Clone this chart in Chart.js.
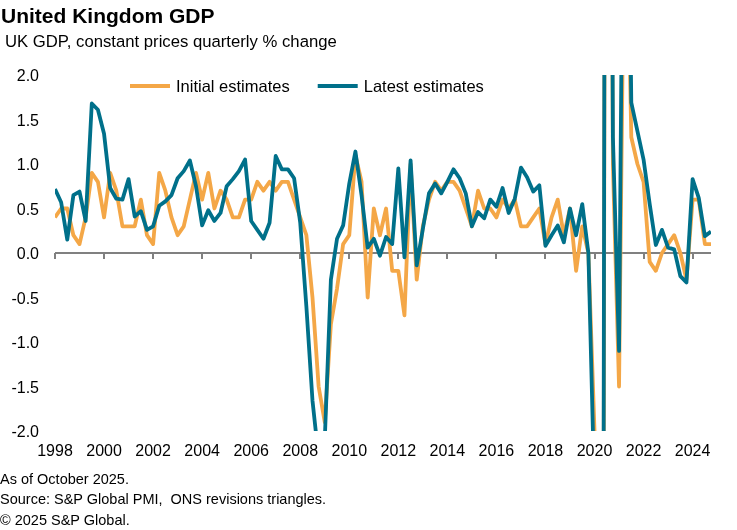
<!DOCTYPE html>
<html>
<head>
<meta charset="utf-8">
<script src="https://cdn.jsdelivr.net/npm/chart.js@4.4.1/dist/chart.umd.min.js"></script>
<style>
  body { margin: 0; background: #fff; }
  #wrap { position: relative; width: 737px; height: 530px; font-family: "Liberation Sans", Arial, sans-serif; color: #000; }
  #chart { position: absolute; left: 0; top: 0; }
  .txt { position: absolute; left: 0; white-space: pre; line-height: 1; }
  #title { left: 1px; top: 5px; font-size: 21px; font-weight: bold; }
  #subtitle { left: 5px; top: 34px; font-size: 16.7px; }
  .note { font-size: 14.5px; }
</style>
</head>
<body>
<div id="wrap">
  <canvas id="chart" width="737" height="530"></canvas>
  <div id="title" class="txt">United Kingdom GDP</div>
  <div id="subtitle" class="txt">UK GDP, constant prices quarterly % change</div>
  <div class="txt note" style="top:472px">As of October 2025.</div>
  <div class="txt note" style="top:492px">Source: S&amp;P Global PMI,  ONS revisions triangles.</div>
  <div class="txt note" style="top:513px">© 2025 S&amp;P Global.</div>
</div>
<script>
// quarters 1998 Q1 .. 2024 Q4
var firstYear = 1998;
var lastYear = 2024;
var quarterLabels = [];
for (let yr = firstYear; yr <= lastYear; yr++) {
    for (let q = 1; q <= 4; q++) quarterLabels.push(yr + " Q" + q);
}

// first published (preliminary) quarterly % change
var initialEstimates = [
    0.4, 0.5, 0.5, 0.2,     // 1998
    0.1, 0.4, 0.9, 0.8,     // 1999
    0.4, 0.9, 0.7, 0.3,     // 2000
    0.3, 0.3, 0.6, 0.2,     // 2001
    0.1, 0.9, 0.7, 0.4,     // 2002
    0.2, 0.3, 0.6, 0.9,     // 2003
    0.6, 0.9, 0.5, 0.7,     // 2004
    0.6, 0.4, 0.4, 0.6,     // 2005
    0.6, 0.8, 0.7, 0.8,     // 2006
    0.7, 0.8, 0.8, 0.6,     // 2007
    0.4, 0.2, -0.5, -1.5,   // 2008
    -1.9, -0.8, -0.4, 0.1,  // 2009
    0.2, 1.1, 0.8, -0.5,    // 2010
    0.5, 0.2, 0.5, -0.2,    // 2011
    -0.2, -0.7, 1.0, -0.3,  // 2012
    0.3, 0.6, 0.8, 0.7,     // 2013
    0.8, 0.8, 0.7, 0.5,     // 2014
    0.3, 0.7, 0.5, 0.5,     // 2015
    0.4, 0.6, 0.5, 0.6,     // 2016
    0.3, 0.3, 0.4, 0.5,     // 2017
    0.1, 0.4, 0.6, 0.2,     // 2018
    0.5, -0.2, 0.3, 0.0,    // 2019
    -2.0, -20.4, 15.5, 1.0, // 2020
    -1.5, 4.8, 1.3, 1.0,    // 2021
    0.8, -0.1, -0.2, 0.0,   // 2022
    0.1, 0.2, 0.0, -0.3,    // 2023
    0.6, 0.6, 0.1, 0.1      // 2024
];

// latest vintage
var latestEstimates = [
    0.72, 0.57, 0.15, 0.65,
    0.69, 0.36, 1.68, 1.61,
    1.34, 0.73, 0.61, 0.60,
    0.83, 0.41, 0.47, 0.26,
    0.30, 0.53, 0.58, 0.65,
    0.84, 0.92, 1.04, 0.75,
    0.31, 0.48, 0.36, 0.45,
    0.75, 0.83, 0.92, 1.05,
    0.36, 0.26, 0.16, 0.34,
    1.09, 0.94, 0.94, 0.84,
    0.34, -0.60, -1.66, -2.30,
    -2.10, -0.30, 0.16, 0.31,
    0.78, 1.14, 0.65, 0.06,
    0.16, -0.03, 0.18, 0.10,
    0.95, -0.05, 1.04, -0.14,
    0.27, 0.67, 0.78, 0.67,
    0.80, 0.94, 0.84, 0.67,
    0.30, 0.46, 0.39, 0.60,
    0.52, 0.73, 0.45, 0.61,
    0.96, 0.85, 0.69, 0.76,
    0.08, 0.20, 0.31, 0.12,
    0.50, 0.20, 0.55, 0.00,
    -2.70, -20.30, 16.80, 1.30,
    -1.10, 7.30, 1.69, 1.37,
    1.05, 0.55, 0.09, 0.26,
    0.06, 0.04, -0.26, -0.33,
    0.83, 0.62, 0.19, 0.24
];

var orange = "#F4A747";
var teal = "#00708A";

/*
############################## Plugins ##############################
*/
// x axis sits on the zero line, tick marks every two years
var zeroAxis = {
    id: "zeroAxis",
    beforeDatasetsDraw(chart) {
        const { ctx, chartArea, scales } = chart;
        const y0 = scales.y.getPixelForValue(0);
        ctx.save();
        ctx.strokeStyle = "#808080";
        ctx.lineWidth = 2;
        ctx.beginPath();
        ctx.moveTo(chartArea.left, y0);
        ctx.lineTo(chartArea.right, y0);
        quarterLabels.forEach((lab, i) => {
            if (i % 8 !== 0) return;
            const px = Math.round(scales.x.getPixelForValue(i));
            ctx.moveTo(px, y0);
            ctx.lineTo(px, y0 + 6);
        });
        ctx.stroke();
        ctx.restore();
    }
};

// legend drawn inside the plot area
var insideLegend = {
    id: "insideLegend",
    afterDatasetsDraw(chart) {
        const ctx = chart.ctx;
        const y = 86;
        let x = 130;
        ctx.save();
        ctx.font = "16.5px 'Liberation Sans', Arial, sans-serif";
        ctx.textBaseline = "middle";
        chart.data.datasets.forEach(ds => {
            ctx.strokeStyle = ds.borderColor;
            ctx.lineWidth = 4;
            ctx.beginPath();
            ctx.moveTo(x, y);
            ctx.lineTo(x + 40, y);
            ctx.stroke();
            ctx.fillStyle = "#000";
            ctx.fillText(ds.label, x + 46, y + 1);
            x += 46 + ctx.measureText(ds.label).width + 28;
        });
        ctx.restore();
    }
};

/*
############################## Chart ##############################
*/
function draw_gdp_chart() {
    var canvas = document.getElementById("chart");
    return new Chart(canvas, {
        type: "line",
        data: {
            labels: quarterLabels,
            datasets: [
                {
                    label: "Initial estimates",
                    data: initialEstimates,
                    borderColor: orange,
                    backgroundColor: orange,
                    borderWidth: 3.8,
                    borderJoinStyle: "round",
                    pointRadius: 0,
                    tension: 0,
                    clip: 0,
                    order: 1
                },
                {
                    label: "Latest estimates",
                    data: latestEstimates,
                    borderColor: teal,
                    backgroundColor: teal,
                    borderWidth: 3.8,
                    borderJoinStyle: "round",
                    pointRadius: 0,
                    tension: 0,
                    clip: 0,
                    order: 0
                }
            ]
        },
        options: {
            responsive: false,
            animation: false,
            layout: { padding: { top: 75, right: 26, left: 0, bottom: 0 } },
            plugins: {
                legend: { display: false },
                tooltip: { enabled: false }
            },
            scales: {
                x: {
                    grid: { display: false, drawTicks: false },
                    border: { display: false },
                    ticks: {
                        autoSkip: false,
                        maxRotation: 0,
                        minRotation: 0,
                        padding: 11,
                        color: "#000",
                        font: { size: 16, family: "'Liberation Sans', Arial, sans-serif" },
                        callback: (val, i) => (i % 8 === 0 ? quarterLabels[i].slice(0, 4) : "")
                    },
                    afterFit(scale) { scale.height = 99; }
                },
                y: {
                    min: -2,
                    max: 2,
                    grid: { display: false, drawTicks: false },
                    border: { display: false },
                    ticks: {
                        stepSize: 0.5,
                        padding: 16,
                        labelOffset: 2,
                        color: "#000",
                        font: { size: 16, family: "'Liberation Sans', Arial, sans-serif" },
                        callback: v => v.toFixed(1)
                    },
                    afterFit(scale) { scale.width = 55; }
                }
            }
        },
        plugins: [zeroAxis, insideLegend]
    });
}

draw_gdp_chart();
</script>
</body>
</html>
